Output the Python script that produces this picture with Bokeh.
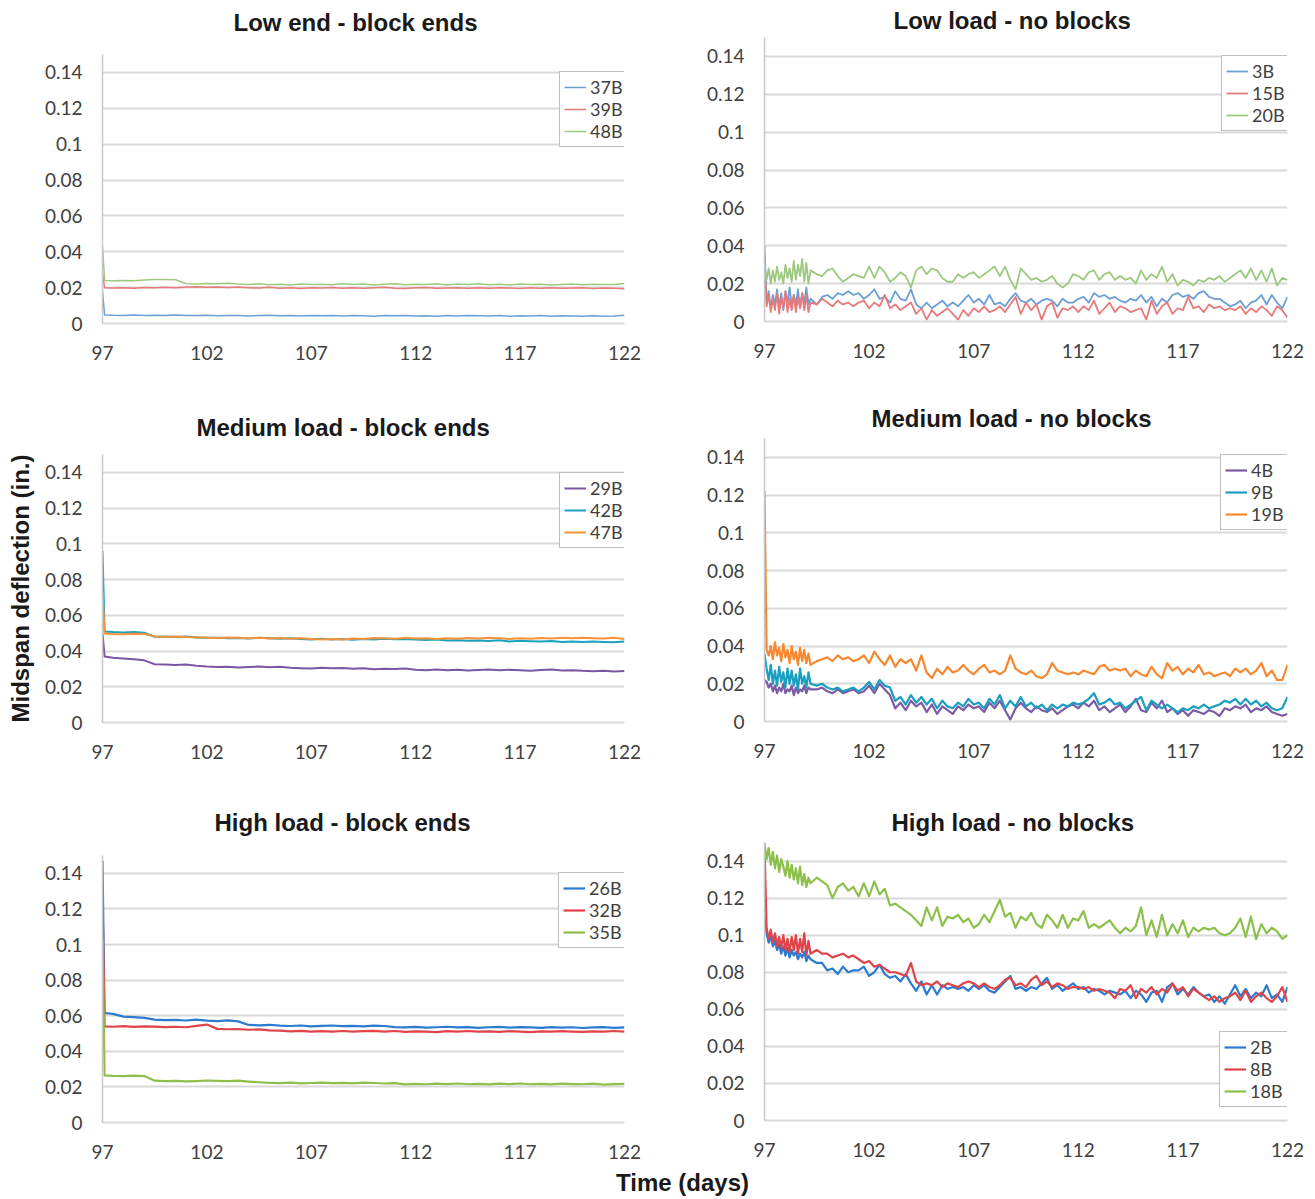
import numpy as np
from bokeh.plotting import figure
from bokeh.models import Range1d, FixedTicker, CustomJSTickFormatter, Legend, LegendItem, Label
from bokeh.layouts import column, row
from bokeh.embed import file_html
from bokeh.resources import INLINE

# ---------------- data (deflection values in thousandths of an inch) ----------------
x_ticks = [97, 102, 107, 112, 117, 122]
y_ticks = [0, 0.02, 0.04, 0.06, 0.08, 0.1, 0.12, 0.14]

# time stamps (days): block-end specimens (smooth records) and no-block specimens
t_block = np.concatenate([[97.0, 97.1], 97.5 + 0.5 * np.arange(50)])
t_free = np.concatenate([np.round(97.0 + 0.1 * np.arange(23), 2), 99.5 + 0.25 * np.arange(91)])

# Low end - block ends
mils_37B = [18, 4.8,
            4.6, 4.5, 4.7, 4.5, 4.6, 4.4, 4.7, 4.5, 4.4, 4.6,
            4.3, 4.5, 4.4, 4.2, 4.4, 4.6, 4.3, 4.4, 4.2, 4.5,
            4.3, 4.4, 4.2, 4.5, 4.3, 4.1, 4.4, 4.3, 4.5, 4.2,
            4.3, 4.1, 4.4, 4.2, 4.5, 4.3, 4.2, 4.4, 4.1, 4.3,
            4.2, 4.4, 4.1, 4.3, 4.2, 4.0, 4.3, 4.1, 4.2, 4.6]
mils_39B = [28, 20,
            19.8, 20.0, 19.7, 20.1, 19.9, 20.2, 20.0, 20.3, 20.5, 20.2,
            20.4, 20.1, 20.3, 20.0, 19.8, 20.2, 19.6, 19.9, 19.5, 20.0,
            19.8, 20.1, 19.7, 20.0, 19.6, 19.9, 20.2, 19.7, 19.5, 19.9,
            20.1, 19.6, 19.8, 20.0, 19.7, 19.9, 19.6, 20.0, 19.8, 19.5,
            19.9, 19.7, 20.0, 19.6, 19.8, 19.9, 19.5, 19.8, 19.7, 19.4]
mils_48B = [43, 24,
            23.8, 24.0, 23.9, 24.2, 24.6, 24.5, 24.4, 22.2, 22.0, 22.3,
            22.1, 22.4, 22.0, 21.8, 22.2, 21.6, 21.9, 21.5, 22.0, 21.7,
            21.9, 21.6, 22.1, 21.7, 22.0, 21.5, 21.9, 22.2, 21.6, 21.9,
            21.7, 22.1, 21.5, 22.0, 21.8, 22.2, 21.6, 21.9, 21.5, 22.0,
            21.7, 21.9, 21.5, 21.8, 22.0, 21.6, 21.9, 21.7, 21.8, 22.3]

# Low load - no blocks
mils_3B = [40, 10, 16, 7, 14, 9, 17, 8, 15, 6, 16, 10,
           18, 8, 14, 9, 17, 7, 15, 10, 18, 9, 12,
           9, 13, 14, 12, 15, 14, 16, 14, 15, 12,
           14, 17, 12, 13, 10, 16, 12, 11, 17, 9,
           7, 10, 7, 9, 11, 8, 10, 8, 11, 14,
           10, 12, 9, 14, 9, 10, 8, 12, 15, 11,
           10, 12, 9, 11, 12, 11, 8, 12, 10, 10,
           12, 13, 10, 15, 13, 14, 12, 13, 11, 10,
           12, 11, 14, 10, 13, 8, 12, 10, 14, 15,
           13, 14, 12, 15, 16, 13, 12, 12, 10, 8,
           9, 11, 7, 10, 11, 14, 9, 14, 10, 7,
           13]
mils_15B = [35, 8, 14, 5, 12, 6, 15, 4, 13, 7, 16, 5,
            12, 6, 14, 5, 13, 7, 15, 6, 14, 5, 10,
            9, 12, 10, 8, 11, 9, 10, 8, 10, 11,
            7, 10, 8, 14, 7, 9, 6, 8, 10, 4,
            7, 1, 6, 3, 5, 7, 4, 1, 6, 3,
            7, 5, 8, 5, 6, 8, 5, 9, 13, 4,
            10, 6, 9, 1, 8, 10, 2, 7, 6, 8,
            5, 8, 6, 11, 4, 7, 10, 5, 8, 7,
            5, 6, 7, 1, 11, 4, 8, 10, 4, 7,
            6, 13, 7, 8, 5, 9, 7, 8, 6, 7,
            6, 8, 4, 7, 5, 8, 6, 3, 8, 6,
            2]
mils_20B = [30, 22, 28, 20, 27, 21, 29, 22, 26, 20, 30, 23,
            28, 21, 32, 22, 30, 24, 33, 21, 31, 20, 27,
            25, 24, 27, 28, 24, 21, 23, 25, 24, 23,
            29, 23, 29, 26, 21, 23, 26, 24, 18, 27,
            29, 25, 28, 27, 23, 21, 21, 25, 23, 25,
            26, 23, 25, 27, 29, 24, 29, 22, 17, 28,
            25, 22, 23, 21, 22, 24, 20, 18, 20, 25,
            24, 22, 26, 27, 22, 25, 26, 22, 24, 22,
            23, 20, 27, 22, 25, 23, 29, 21, 25, 19,
            22, 21, 19, 22, 21, 23, 22, 24, 21, 23,
            25, 27, 23, 28, 22, 27, 21, 28, 19, 23,
            22]

# Medium load - block ends
mils_29B = [50, 37,
            36.2, 35.8, 35.4, 34.8, 32.6, 32.4, 32.2, 32.5, 31.8, 31.3,
            31.0, 31.2, 30.8, 31.1, 31.3, 30.9, 31.2, 30.7, 30.4, 30.2,
            30.6, 30.3, 30.5, 30.1, 30.3, 29.8, 30.1, 29.9, 30.2, 29.5,
            29.3, 29.6, 29.2, 29.5, 29.1, 29.4, 29.6, 29.2, 29.5, 29.3,
            29.0, 29.4, 29.6, 29.1, 29.3, 28.9, 28.7, 28.9, 28.6, 28.8]
mils_42B = [96, 51,
            50.6, 50.4, 50.7, 50.2, 48.0, 48.2, 47.8, 48.1, 47.6, 47.4,
            47.5, 47.2, 47.3, 47.0, 47.4, 47.1, 46.9, 47.2, 46.7, 46.5,
            46.9, 46.4, 46.7, 46.3, 46.8, 46.5, 46.9, 46.6, 46.8, 46.4,
            46.2, 46.5, 45.9, 46.1, 45.7, 45.9, 45.6, 46.0, 45.4, 45.7,
            45.5, 45.3, 45.6, 45.1, 45.4, 45.0, 45.3, 45.1, 44.9, 45.4]
mils_47B = [73, 50,
            49.6, 49.4, 49.7, 49.5, 48.2, 47.9, 48.1, 47.8, 47.7, 47.5,
            47.3, 47.6, 47.4, 47.2, 47.5, 47.0, 47.3, 46.9, 47.1, 46.7,
            46.4, 46.8, 46.5, 47.0, 46.8, 47.3, 47.1, 46.9, 47.4, 47.0,
            47.2, 46.8, 47.1, 46.9, 47.3, 47.0, 47.4, 47.1, 46.8, 47.2,
            46.9, 47.3, 47.0, 47.4, 47.1, 47.5, 47.2, 47.0, 47.4, 46.8]

# Medium load - no blocks
mils_4B = [22, 21, 18, 20, 16, 19, 15, 18, 16, 20, 15, 17,
           16, 19, 14, 18, 15, 17, 16, 19, 15, 18, 17,
           17, 18, 16, 15, 17, 15, 16, 17, 15, 16,
           19, 15, 20, 17, 14, 7, 10, 6, 11, 8,
           10, 5, 9, 4, 8, 6, 4, 8, 6, 9,
           7, 8, 5, 10, 7, 11, 6, 1, 7, 10,
           7, 5, 8, 6, 5, 7, 4, 6, 8, 9,
           7, 10, 8, 11, 6, 8, 5, 7, 9, 5,
           8, 12, 6, 5, 10, 7, 11, 5, 7, 4,
           6, 3, 6, 5, 4, 6, 5, 3, 7, 6,
           8, 7, 9, 5, 7, 6, 8, 5, 4, 3,
           4]
mils_9B = [36, 28, 22, 30, 20, 27, 19, 29, 21, 26, 18, 28,
           20, 27, 19, 25, 17, 28, 20, 24, 18, 26, 20,
           19, 20, 18, 17, 18, 16, 17, 18, 16, 18,
           21, 17, 22, 19, 18, 11, 13, 9, 14, 10,
           13, 9, 12, 7, 11, 8, 7, 10, 8, 12,
           9, 10, 7, 12, 9, 14, 7, 11, 8, 13,
           8, 10, 7, 9, 6, 9, 7, 9, 8, 10,
           9, 10, 12, 15, 9, 10, 12, 9, 10, 7,
           9, 11, 13, 6, 11, 9, 7, 9, 7, 5,
           7, 6, 8, 7, 9, 7, 8, 9, 11, 10,
           12, 9, 12, 9, 11, 8, 10, 7, 6, 7,
           13]
mils_19B = [122, 38, 35, 40, 33, 42, 35, 39, 32, 41, 34, 38,
            31, 40, 33, 37, 30, 39, 32, 38, 31, 36, 30,
            32, 33, 34, 32, 35, 33, 34, 32, 33, 35,
            31, 37, 33, 30, 35, 29, 33, 31, 33, 27,
            35, 26, 23, 28, 25, 29, 26, 27, 30, 27,
            25, 28, 30, 26, 27, 25, 27, 35, 28, 26,
            25, 27, 24, 23, 25, 31, 27, 26, 25, 26,
            25, 27, 26, 25, 29, 30, 27, 28, 27, 28,
            24, 27, 25, 24, 29, 25, 23, 31, 27, 29,
            25, 28, 26, 30, 25, 26, 24, 25, 26, 24,
            28, 26, 28, 25, 27, 31, 24, 27, 22, 22,
            30]

# High load - block ends
mils_26B = [147, 61.5,
            61.0, 59.5, 59.2, 58.8, 57.8, 57.5, 57.6, 57.3, 57.8, 57.2,
            57.0, 57.4, 56.8, 54.8, 54.6, 54.9, 54.4, 54.2, 54.5, 54.0,
            54.3, 54.5, 54.1, 54.3, 54.0, 54.4, 54.2, 53.6, 53.4, 53.7,
            53.3, 53.5, 53.8, 53.4, 53.6, 53.2, 53.5, 53.7, 53.3, 53.6,
            53.4, 53.2, 53.6, 53.3, 53.5, 53.1, 53.4, 53.6, 53.2, 53.4]
mils_32B = [124, 54,
            53.8, 54.1, 53.7, 54.0, 53.9, 53.6, 53.8, 53.5, 54.3, 55.0,
            52.6, 52.4, 52.5, 52.1, 52.3, 51.8, 51.6, 51.2, 51.5, 51.0,
            51.3, 51.1, 51.4, 51.0, 51.3, 51.5, 51.1, 51.4, 50.9, 51.2,
            51.0, 50.8, 51.3, 51.1, 51.4, 51.0, 51.2, 50.9, 51.3, 51.1,
            50.8, 51.2, 51.0, 51.3, 51.1, 50.9, 51.2, 51.0, 51.4, 51.1]
mils_35B = [104, 26.5,
            26.2, 26.0, 26.3, 26.1, 23.5, 23.2, 23.4, 23.1, 23.3, 23.6,
            23.4, 23.2, 23.5, 23.0, 22.6, 22.3, 22.1, 22.4, 22.0, 22.2,
            22.4, 22.1, 22.3, 22.0, 22.4, 22.2, 21.9, 22.1, 21.4, 21.7,
            21.5, 21.8, 21.6, 21.9, 21.5, 21.7, 21.4, 21.8, 21.6, 21.9,
            21.5, 21.7, 21.4, 21.8, 21.6, 21.5, 21.8, 21.3, 21.6, 21.7]

# High load - no blocks
mils_2B = [110, 101, 96, 99, 94, 97, 92, 95, 90, 94, 89, 93,
           88, 92, 89, 91, 87, 90, 88, 91, 86, 89, 87,
           85, 85, 81, 82, 79, 83, 80, 81, 81, 83,
           78, 80, 84, 79, 77, 78, 75, 79, 74, 70,
           75, 68, 73, 68, 73, 71, 72, 71, 72, 70,
           73, 71, 73, 70, 69, 72, 75, 78, 71, 72,
           70, 72, 71, 74, 77, 71, 73, 70, 72, 74,
           71, 72, 69, 71, 70, 68, 70, 69, 68, 70,
           66, 70, 68, 64, 69, 70, 64, 72, 74, 68,
           71, 68, 72, 69, 67, 68, 64, 67, 63, 68,
           73, 67, 71, 66, 69, 67, 73, 66, 68, 64,
           72]
mils_8B = [148, 104, 98, 103, 96, 101, 94, 99, 93, 100, 92, 98,
           91, 99, 92, 100, 90, 98, 91, 101, 89, 97, 90,
           92, 90, 90, 88, 89, 90, 88, 89, 87, 85,
           86, 83, 84, 82, 80, 80, 79, 78, 85, 75,
           73, 74, 73, 75, 72, 74, 73, 72, 74, 75,
           74, 72, 74, 72, 71, 73, 76, 77, 73, 74,
           72, 76, 78, 73, 75, 72, 74, 73, 71, 72,
           72, 71, 72, 70, 71, 70, 69, 66, 71, 70,
           73, 66, 71, 69, 72, 68, 71, 69, 74, 70,
           72, 67, 71, 69, 67, 65, 67, 64, 66, 67,
           69, 65, 70, 64, 67, 69, 66, 64, 67, 72,
           64]
mils_18B = [150, 141, 147, 138, 145, 136, 143, 134, 141, 137, 132, 140,
            131, 138, 130, 136, 128, 137, 127, 133, 126, 131, 128,
            131, 129, 127, 120, 126, 128, 124, 126, 121, 128,
            121, 129, 122, 125, 116, 117, 115, 113, 111, 108,
            105, 115, 108, 115, 105, 110, 109, 111, 107, 109,
            104, 106, 111, 107, 113, 119, 110, 112, 104, 110,
            108, 112, 106, 104, 111, 108, 104, 111, 104, 109,
            108, 113, 104, 106, 104, 106, 108, 104, 101, 104,
            102, 105, 115, 100, 108, 99, 111, 100, 106, 101,
            108, 99, 104, 102, 104, 103, 104, 101, 100, 101,
            104, 109, 99, 110, 98, 106, 101, 104, 102, 98,
            100]

# ---------------- styling ----------------
TICK_FONT = "Lato"
BOLD_FONT = "Liberation Sans"
TICK_COLOR = "#404040"
GRID_COLOR = "#d9d9d9"
Y_MAX = 0.15


def panel(title, t, series, lw, geom, legend_xy, title_off, title_standoff, ylabel=None,
          extra_top=0):
    # extra_top: pixels of frame kept above the 0.15 axis end (axis line stays bounded at 0.15)
    W, H, bl, br, bt, bb = geom
    frame_h = H - bt - bb
    y_top = Y_MAX * frame_h / (frame_h - extra_top)
    p = figure(width=W, height=H, x_range=Range1d(97, 122), y_range=Range1d(0, y_top),
               output_backend="svg", toolbar_location=None, title=title,
               min_border_left=bl, min_border_right=br, min_border_top=bt, min_border_bottom=bb)
    p.title.align = "left"
    p.title.offset = title_off
    p.title.standoff = title_standoff
    p.title.vertical_align = "top"
    p.title.text_font = BOLD_FONT
    p.title.text_font_style = "bold"
    p.title.text_font_size = "24px"
    p.title.text_color = "#1a1a1a"
    p.outline_line_color = None
    p.background_fill_color = "white"
    p.border_fill_color = "white"
    p.xgrid.visible = False
    p.xaxis.ticker = FixedTicker(ticks=x_ticks)
    p.yaxis.ticker = FixedTicker(ticks=y_ticks)
    p.yaxis.bounds = (0, Y_MAX)
    p.ygrid.ticker = p.yaxis[0].ticker
    p.ygrid.grid_line_color = GRID_COLOR
    p.ygrid.grid_line_width = 2
    p.yaxis.formatter = CustomJSTickFormatter(code="return tick.toFixed(2).replace(/\\.?0+$/, '')")
    for ax in (p.xaxis[0], p.yaxis[0]):
        ax.major_tick_out = 0
        ax.major_tick_in = 0
        ax.minor_tick_out = 0
        ax.minor_tick_in = 0
        ax.major_label_text_font = TICK_FONT
        ax.major_label_text_font_size = "19px"
        ax.major_label_text_color = TICK_COLOR
    p.yaxis.major_label_standoff = 20
    p.xaxis.major_label_standoff = 22
    p.xaxis.axis_line_color = GRID_COLOR
    p.xaxis.axis_line_width = 2
    p.yaxis.axis_line_color = "#c8c8c8"
    p.yaxis.axis_line_width = 1.5
    if ylabel:
        p.yaxis.axis_label = ylabel
        p.yaxis.axis_label_text_font = BOLD_FONT
        p.yaxis.axis_label_text_font_style = "bold"
        p.yaxis.axis_label_text_font_size = "24px"
        p.yaxis.axis_label_text_color = "#1a1a1a"
        p.yaxis.axis_label_standoff = 8

    items = []
    for name, vals, color in series:
        r = p.line(t, np.asarray(vals, dtype=float) / 1000.0, line_color=color,
                   line_width=lw, line_join="round")
        items.append(LegendItem(label=name, renderers=[r]))
    leg = Legend(items=items, location=legend_xy, margin=0, padding=4, spacing=0,
                 glyph_width=22, glyph_height=16, label_height=20, label_standoff=4,
                 label_text_font=TICK_FONT, label_text_font_size="18px",
                 label_text_color=TICK_COLOR, border_line_color="#808080",
                 border_line_width=1.2, background_fill_color="white", background_fill_alpha=1.0)
    p.add_layout(leg)
    return p


f1 = panel("Low end - block ends", t_block,
           [("37B", mils_37B, "#6b9fd6"), ("39B", mils_39B, "#e8797b"), ("48B", mils_48B, "#9dc97e")],
           1.5, (690, 395, 102, 66, 44, 72), (457, 176), 131, 14, extra_top=10)
f2 = panel("Low load - no blocks", t_free,
           [("3B", mils_3B, "#6b9fd6"), ("15B", mils_15B, "#e8797b"), ("20B", mils_20B, "#9dc97e")],
           1.8, (623, 395, 74, 26, 37, 74), (457, 190), 129, 3)
f3 = panel("Medium load - block ends", t_block,
           [("29B", mils_29B, "#7d56a3"), ("42B", mils_42B, "#1ba1bf"), ("47B", mils_47B, "#f79239")],
           2.0, (690, 395, 102, 66, 59, 68), (457, 174), 94, 23,
           ylabel="Midspan deflection (in.)")
f4 = panel("Medium load - no blocks", t_free,
           [("4B", mils_4B, "#7b5aa6"), ("9B", mils_9B, "#1a9fc0"), ("19B", mils_19B, "#f7882f")],
           2.2, (623, 395, 74, 26, 43, 69), (456, 191), 107, 9)
f5 = panel("High load - block ends", t_block,
           [("26B", mils_26B, "#2b7bd0"), ("32B", mils_32B, "#e04349"), ("35B", mils_35B, "#8dc04a")],
           2.2, (690, 375, 102, 66, 65, 43), (456, 174), 112, 35)
f6 = panel("High load - no blocks", t_free,
           [("2B", mils_2B, "#2b7bd0"), ("8B", mils_8B, "#e04349"), ("18B", mils_18B, "#8dc04a")],
           2.2, (623, 375, 74, 26, 52, 45), (455, 13), 127, 9)

pt = figure(width=1313, height=32, x_range=Range1d(0, 1), y_range=Range1d(0, 1),
            output_backend="svg", toolbar_location=None, x_axis_type=None, y_axis_type=None,
            min_border=0)
pt.outline_line_color = None
pt.add_layout(Label(x=682, y=15, x_units="screen", y_units="screen", text="Time (days)",
                    text_align="center", text_baseline="middle", text_font=BOLD_FONT,
                    text_font_style="bold", text_font_size="24px", text_color="#1a1a1a"))

left_col = column(f1, f3, f5, spacing=0)
right_col = column(f2, f4, f6, spacing=0)
layout = column(row(left_col, right_col, spacing=0), pt, spacing=0)

open("out.html", "w").write(file_html(layout, INLINE))
